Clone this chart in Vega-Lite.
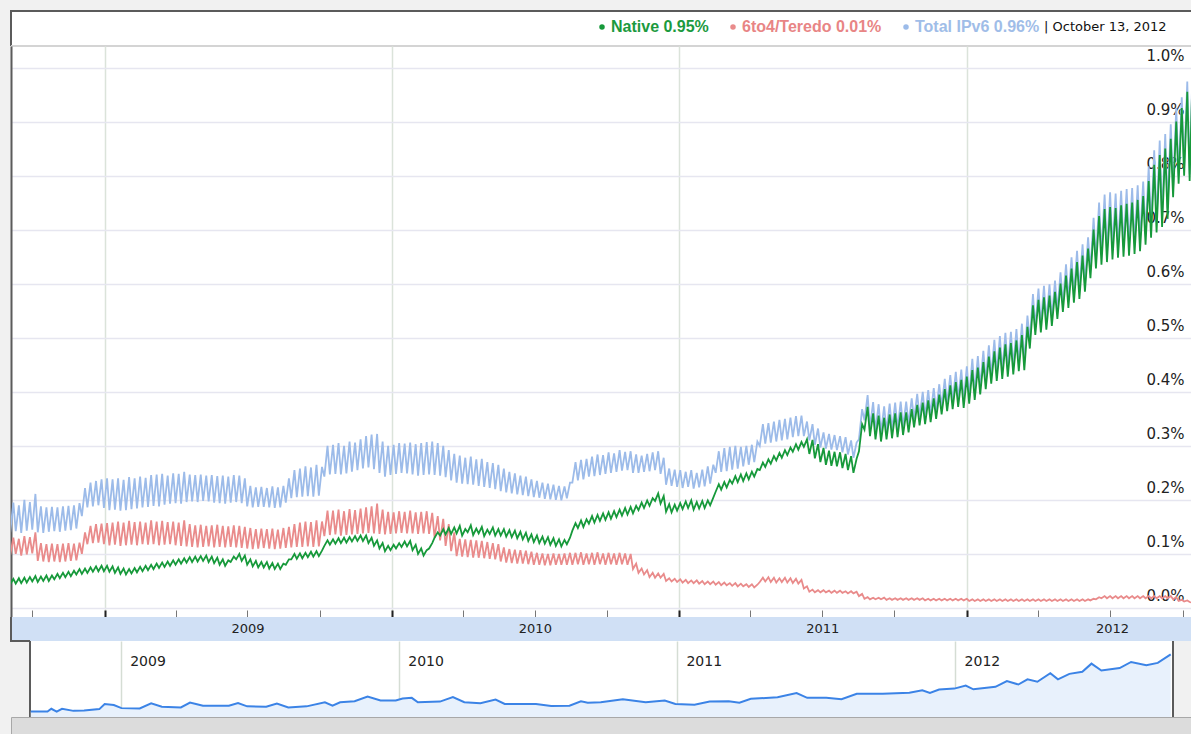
{
"$schema": "https://vega.github.io/schema/vega-lite/v6.json",
"background": "#f1f1f1",
"padding": {"left": 10, "top": 10, "right": 0, "bottom": 0},
"bounds": "flush",
"spacing": 0,
"center": true,
"config": {"font": "DejaVu Sans"},
"datasets": {
"years": [
{"mid": "2009-07-02", "label": "2009"},
{"mid": "2010-07-02", "label": "2010"},
{"mid": "2011-07-02", "label": "2011"},
{"mid": "2012-07-04", "label": "2012"}
],
"overview": [
{"d":"2008-09-05","v":0.084},{"d":"2008-09-27","v":0.084},{"d":"2008-10-02","v":0.126},{"d":"2008-10-09","v":0.084},{"d":"2008-10-16","v":0.126},{"d":"2008-10-31","v":0.094},{"d":"2008-11-14","v":0.100},{"d":"2008-12-04","v":0.121},{"d":"2008-12-11","v":0.199},{"d":"2008-12-23","v":0.184},
{"d":"2009-01-02","v":0.136},{"d":"2009-01-26","v":0.131},{"d":"2009-02-10","v":0.210},{"d":"2009-02-24","v":0.157},{"d":"2009-03-21","v":0.147},{"d":"2009-04-02","v":0.220},{"d":"2009-04-19","v":0.173},{"d":"2009-05-23","v":0.173},{"d":"2009-06-04","v":0.215},{"d":"2009-06-16","v":0.163},{"d":"2009-07-11","v":0.157},{"d":"2009-07-25","v":0.205},{"d":"2009-08-09","v":0.147},{"d":"2009-09-02","v":0.163},{"d":"2009-09-26","v":0.226},{"d":"2009-10-06","v":0.173},{"d":"2009-10-16","v":0.226},{"d":"2009-11-04","v":0.241},{"d":"2009-11-21","v":0.315},{"d":"2009-12-08","v":0.252},{"d":"2009-12-28","v":0.252},
{"d":"2010-01-06","v":0.283},{"d":"2010-01-18","v":0.294},{"d":"2010-01-26","v":0.226},{"d":"2010-02-24","v":0.236},{"d":"2010-03-13","v":0.304},{"d":"2010-03-28","v":0.226},{"d":"2010-04-18","v":0.210},{"d":"2010-05-08","v":0.267},{"d":"2010-05-20","v":0.199},{"d":"2010-06-30","v":0.199},{"d":"2010-07-20","v":0.168},{"d":"2010-08-13","v":0.173},{"d":"2010-08-28","v":0.241},{"d":"2010-09-06","v":0.220},{"d":"2010-09-23","v":0.226},{"d":"2010-10-22","v":0.273},{"d":"2010-11-21","v":0.226},{"d":"2010-12-16","v":0.252},{"d":"2010-12-30","v":0.199},
{"d":"2011-01-24","v":0.189},{"d":"2011-02-13","v":0.236},{"d":"2011-03-10","v":0.241},{"d":"2011-03-24","v":0.220},{"d":"2011-04-08","v":0.278},{"d":"2011-05-13","v":0.304},{"d":"2011-06-07","v":0.367},{"d":"2011-06-21","v":0.294},{"d":"2011-07-16","v":0.294},{"d":"2011-08-05","v":0.273},{"d":"2011-08-25","v":0.357},{"d":"2011-09-28","v":0.357},{"d":"2011-11-02","v":0.372},{"d":"2011-11-19","v":0.409},{"d":"2011-11-29","v":0.367},{"d":"2011-12-11","v":0.420},{"d":"2011-12-31","v":0.435},
{"d":"2012-01-15","v":0.483},{"d":"2012-01-25","v":0.425},{"d":"2012-02-23","v":0.462},{"d":"2012-03-09","v":0.551},{"d":"2012-03-24","v":0.498},{"d":"2012-04-05","v":0.577},{"d":"2012-04-18","v":0.540},{"d":"2012-05-05","v":0.671},{"d":"2012-05-15","v":0.577},{"d":"2012-05-30","v":0.661},{"d":"2012-06-16","v":0.692},{"d":"2012-06-28","v":0.818},{"d":"2012-07-11","v":0.713},{"d":"2012-08-04","v":0.750},{"d":"2012-08-19","v":0.844},{"d":"2012-09-08","v":0.792},{"d":"2012-09-23","v":0.829},{"d":"2012-10-10","v":0.960}
],
"ipv6": [
{"d":"2008-09-03","n":0.044,"r":0.098,"t":0.140},{"d":"2008-09-07","n":0.054,"r":0.130,"t":0.195},
{"d":"2008-09-10","n":0.045,"r":0.100,"t":0.142},{"d":"2008-09-14","n":0.055,"r":0.128,"t":0.190},
{"d":"2008-09-17","n":0.046,"r":0.097,"t":0.139},{"d":"2008-09-21","n":0.056,"r":0.133,"t":0.200},
{"d":"2008-09-24","n":0.047,"r":0.099,"t":0.143},{"d":"2008-09-28","n":0.057,"r":0.131,"t":0.196},
{"d":"2008-10-01","n":0.049,"r":0.101,"t":0.145},{"d":"2008-10-05","n":0.059,"r":0.140,"t":0.211},
{"d":"2008-10-08","n":0.048,"r":0.087,"t":0.140},{"d":"2008-10-12","n":0.058,"r":0.120,"t":0.188},
{"d":"2008-10-15","n":0.050,"r":0.086,"t":0.139},{"d":"2008-10-19","n":0.060,"r":0.118,"t":0.186},
{"d":"2008-10-22","n":0.050,"r":0.085,"t":0.141},{"d":"2008-10-26","n":0.060,"r":0.119,"t":0.187},
{"d":"2008-10-29","n":0.053,"r":0.086,"t":0.142},{"d":"2008-11-02","n":0.063,"r":0.118,"t":0.186},
{"d":"2008-11-05","n":0.055,"r":0.085,"t":0.141},{"d":"2008-11-09","n":0.065,"r":0.119,"t":0.188},
{"d":"2008-11-12","n":0.057,"r":0.086,"t":0.143},{"d":"2008-11-16","n":0.067,"r":0.120,"t":0.189},
{"d":"2008-11-19","n":0.059,"r":0.087,"t":0.144},{"d":"2008-11-23","n":0.069,"r":0.119,"t":0.190},
{"d":"2008-11-26","n":0.062,"r":0.088,"t":0.147},{"d":"2008-11-30","n":0.072,"r":0.121,"t":0.194},
{"d":"2008-12-03","n":0.063,"r":0.100,"t":0.170},{"d":"2008-12-07","n":0.073,"r":0.140,"t":0.222},
{"d":"2008-12-10","n":0.065,"r":0.118,"t":0.186},{"d":"2008-12-14","n":0.075,"r":0.152,"t":0.232},
{"d":"2008-12-17","n":0.067,"r":0.120,"t":0.188},{"d":"2008-12-21","n":0.077,"r":0.155,"t":0.235},
{"d":"2008-12-24","n":0.068,"r":0.121,"t":0.190},{"d":"2008-12-28","n":0.078,"r":0.156,"t":0.238},
{"d":"2008-12-31","n":0.068,"r":0.118,"t":0.185},{"d":"2009-01-04","n":0.078,"r":0.157,"t":0.240},
{"d":"2009-01-07","n":0.067,"r":0.116,"t":0.181},{"d":"2009-01-11","n":0.077,"r":0.158,"t":0.238},
{"d":"2009-01-14","n":0.065,"r":0.117,"t":0.182},{"d":"2009-01-18","n":0.075,"r":0.160,"t":0.240},
{"d":"2009-01-21","n":0.063,"r":0.115,"t":0.180},{"d":"2009-01-25","n":0.073,"r":0.158,"t":0.237},
{"d":"2009-01-28","n":0.062,"r":0.116,"t":0.181},{"d":"2009-02-01","n":0.072,"r":0.161,"t":0.242},
{"d":"2009-02-04","n":0.064,"r":0.117,"t":0.183},{"d":"2009-02-08","n":0.074,"r":0.159,"t":0.240},
{"d":"2009-02-11","n":0.066,"r":0.116,"t":0.184},{"d":"2009-02-15","n":0.076,"r":0.160,"t":0.243},
{"d":"2009-02-18","n":0.068,"r":0.118,"t":0.186},{"d":"2009-02-22","n":0.078,"r":0.158,"t":0.241},
{"d":"2009-02-25","n":0.070,"r":0.117,"t":0.187},{"d":"2009-03-01","n":0.080,"r":0.162,"t":0.246},
{"d":"2009-03-04","n":0.072,"r":0.118,"t":0.189},{"d":"2009-03-08","n":0.082,"r":0.160,"t":0.247},
{"d":"2009-03-11","n":0.074,"r":0.116,"t":0.188},{"d":"2009-03-15","n":0.084,"r":0.161,"t":0.248},
{"d":"2009-03-18","n":0.076,"r":0.117,"t":0.191},{"d":"2009-03-22","n":0.086,"r":0.159,"t":0.245},
{"d":"2009-03-25","n":0.078,"r":0.118,"t":0.193},{"d":"2009-03-29","n":0.088,"r":0.160,"t":0.249},
{"d":"2009-04-01","n":0.080,"r":0.116,"t":0.194},{"d":"2009-04-05","n":0.090,"r":0.158,"t":0.248},
{"d":"2009-04-08","n":0.082,"r":0.115,"t":0.193},{"d":"2009-04-12","n":0.092,"r":0.162,"t":0.252},
{"d":"2009-04-15","n":0.084,"r":0.114,"t":0.196},{"d":"2009-04-19","n":0.094,"r":0.155,"t":0.247},
{"d":"2009-04-22","n":0.085,"r":0.113,"t":0.197},{"d":"2009-04-26","n":0.095,"r":0.153,"t":0.246},
{"d":"2009-04-29","n":0.086,"r":0.112,"t":0.196},{"d":"2009-05-03","n":0.096,"r":0.154,"t":0.247},
{"d":"2009-05-06","n":0.087,"r":0.113,"t":0.198},{"d":"2009-05-10","n":0.097,"r":0.152,"t":0.245},
{"d":"2009-05-13","n":0.085,"r":0.114,"t":0.197},{"d":"2009-05-17","n":0.095,"r":0.153,"t":0.246},
{"d":"2009-05-20","n":0.083,"r":0.112,"t":0.195},{"d":"2009-05-24","n":0.093,"r":0.154,"t":0.244},
{"d":"2009-05-27","n":0.080,"r":0.113,"t":0.194},{"d":"2009-05-31","n":0.090,"r":0.152,"t":0.245},
{"d":"2009-06-03","n":0.078,"r":0.112,"t":0.193},{"d":"2009-06-07","n":0.088,"r":0.151,"t":0.243},
{"d":"2009-06-10","n":0.085,"r":0.113,"t":0.195},{"d":"2009-06-14","n":0.095,"r":0.153,"t":0.246},
{"d":"2009-06-17","n":0.090,"r":0.112,"t":0.196},{"d":"2009-06-21","n":0.100,"r":0.152,"t":0.245},
{"d":"2009-06-24","n":0.087,"r":0.111,"t":0.194},{"d":"2009-06-28","n":0.097,"r":0.150,"t":0.240},
{"d":"2009-07-01","n":0.080,"r":0.110,"t":0.188},{"d":"2009-07-05","n":0.090,"r":0.148,"t":0.226},
{"d":"2009-07-08","n":0.077,"r":0.109,"t":0.186},{"d":"2009-07-12","n":0.087,"r":0.146,"t":0.223},
{"d":"2009-07-15","n":0.075,"r":0.110,"t":0.187},{"d":"2009-07-19","n":0.085,"r":0.147,"t":0.224},
{"d":"2009-07-22","n":0.075,"r":0.111,"t":0.187},{"d":"2009-07-26","n":0.085,"r":0.146,"t":0.222},
{"d":"2009-07-29","n":0.073,"r":0.110,"t":0.186},{"d":"2009-08-02","n":0.083,"r":0.147,"t":0.225},
{"d":"2009-08-05","n":0.072,"r":0.109,"t":0.185},{"d":"2009-08-09","n":0.082,"r":0.145,"t":0.223},
{"d":"2009-08-12","n":0.072,"r":0.110,"t":0.186},{"d":"2009-08-16","n":0.082,"r":0.148,"t":0.226},
{"d":"2009-08-19","n":0.080,"r":0.111,"t":0.195},{"d":"2009-08-23","n":0.090,"r":0.150,"t":0.240},
{"d":"2009-08-26","n":0.090,"r":0.112,"t":0.203},{"d":"2009-08-30","n":0.100,"r":0.155,"t":0.255},
{"d":"2009-09-02","n":0.091,"r":0.113,"t":0.205},{"d":"2009-09-06","n":0.101,"r":0.158,"t":0.258},
{"d":"2009-09-09","n":0.092,"r":0.113,"t":0.206},{"d":"2009-09-13","n":0.102,"r":0.160,"t":0.262},
{"d":"2009-09-16","n":0.094,"r":0.114,"t":0.207},{"d":"2009-09-20","n":0.104,"r":0.159,"t":0.260},
{"d":"2009-09-23","n":0.095,"r":0.113,"t":0.206},{"d":"2009-09-27","n":0.105,"r":0.162,"t":0.265},
{"d":"2009-09-30","n":0.096,"r":0.114,"t":0.208},{"d":"2009-10-04","n":0.106,"r":0.160,"t":0.261},
{"d":"2009-10-07","n":0.115,"r":0.133,"t":0.243},{"d":"2009-10-11","n":0.125,"r":0.180,"t":0.300},
{"d":"2009-10-14","n":0.117,"r":0.135,"t":0.247},{"d":"2009-10-18","n":0.127,"r":0.180,"t":0.302},
{"d":"2009-10-21","n":0.119,"r":0.136,"t":0.248},{"d":"2009-10-25","n":0.129,"r":0.182,"t":0.305},
{"d":"2009-10-28","n":0.120,"r":0.134,"t":0.247},{"d":"2009-11-01","n":0.130,"r":0.179,"t":0.300},
{"d":"2009-11-04","n":0.121,"r":0.135,"t":0.249},{"d":"2009-11-08","n":0.131,"r":0.183,"t":0.308},
{"d":"2009-11-11","n":0.123,"r":0.136,"t":0.252},{"d":"2009-11-15","n":0.133,"r":0.181,"t":0.306},
{"d":"2009-11-18","n":0.124,"r":0.137,"t":0.255},{"d":"2009-11-22","n":0.134,"r":0.184,"t":0.312},
{"d":"2009-11-25","n":0.124,"r":0.138,"t":0.258},{"d":"2009-11-29","n":0.134,"r":0.186,"t":0.318},
{"d":"2009-12-02","n":0.120,"r":0.139,"t":0.260},{"d":"2009-12-06","n":0.130,"r":0.188,"t":0.321},
{"d":"2009-12-09","n":0.115,"r":0.138,"t":0.257},{"d":"2009-12-13","n":0.125,"r":0.193,"t":0.322},
{"d":"2009-12-16","n":0.110,"r":0.137,"t":0.250},{"d":"2009-12-20","n":0.120,"r":0.182,"t":0.308},
{"d":"2009-12-23","n":0.105,"r":0.136,"t":0.243},{"d":"2009-12-27","n":0.115,"r":0.178,"t":0.300},
{"d":"2009-12-30","n":0.107,"r":0.137,"t":0.246},{"d":"2010-01-03","n":0.117,"r":0.177,"t":0.302},
{"d":"2010-01-06","n":0.110,"r":0.138,"t":0.248},{"d":"2010-01-10","n":0.120,"r":0.179,"t":0.305},
{"d":"2010-01-13","n":0.113,"r":0.139,"t":0.250},{"d":"2010-01-17","n":0.123,"r":0.178,"t":0.304},
{"d":"2010-01-20","n":0.114,"r":0.138,"t":0.249},{"d":"2010-01-24","n":0.124,"r":0.180,"t":0.306},
{"d":"2010-01-27","n":0.107,"r":0.138,"t":0.247},{"d":"2010-01-31","n":0.117,"r":0.177,"t":0.303},
{"d":"2010-02-03","n":0.100,"r":0.137,"t":0.245},{"d":"2010-02-07","n":0.110,"r":0.178,"t":0.305},
{"d":"2010-02-10","n":0.097,"r":0.138,"t":0.246},{"d":"2010-02-14","n":0.107,"r":0.179,"t":0.307},
{"d":"2010-02-17","n":0.110,"r":0.137,"t":0.247},{"d":"2010-02-21","n":0.120,"r":0.176,"t":0.308},
{"d":"2010-02-24","n":0.130,"r":0.130,"t":0.246},{"d":"2010-02-28","n":0.140,"r":0.170,"t":0.305},
{"d":"2010-03-03","n":0.134,"r":0.125,"t":0.245},{"d":"2010-03-07","n":0.146,"r":0.165,"t":0.300},
{"d":"2010-03-10","n":0.136,"r":0.115,"t":0.242},{"d":"2010-03-14","n":0.148,"r":0.155,"t":0.292},
{"d":"2010-03-17","n":0.137,"r":0.105,"t":0.236},{"d":"2010-03-21","n":0.149,"r":0.140,"t":0.285},
{"d":"2010-03-24","n":0.138,"r":0.096,"t":0.232},{"d":"2010-03-28","n":0.152,"r":0.128,"t":0.282},
{"d":"2010-03-31","n":0.134,"r":0.095,"t":0.230},{"d":"2010-04-04","n":0.146,"r":0.127,"t":0.278},
{"d":"2010-04-07","n":0.140,"r":0.094,"t":0.229},{"d":"2010-04-11","n":0.153,"r":0.126,"t":0.280},
{"d":"2010-04-14","n":0.135,"r":0.093,"t":0.228},{"d":"2010-04-18","n":0.147,"r":0.125,"t":0.275},
{"d":"2010-04-21","n":0.138,"r":0.093,"t":0.226},{"d":"2010-04-25","n":0.150,"r":0.124,"t":0.276},
{"d":"2010-04-28","n":0.133,"r":0.092,"t":0.224},{"d":"2010-05-02","n":0.145,"r":0.122,"t":0.270},
{"d":"2010-05-05","n":0.137,"r":0.091,"t":0.222},{"d":"2010-05-09","n":0.149,"r":0.120,"t":0.268},
{"d":"2010-05-12","n":0.134,"r":0.090,"t":0.220},{"d":"2010-05-16","n":0.146,"r":0.118,"t":0.265},
{"d":"2010-05-19","n":0.134,"r":0.086,"t":0.216},{"d":"2010-05-23","n":0.146,"r":0.112,"t":0.258},
{"d":"2010-05-26","n":0.132,"r":0.084,"t":0.214},{"d":"2010-05-30","n":0.144,"r":0.109,"t":0.252},
{"d":"2010-06-02","n":0.131,"r":0.083,"t":0.212},{"d":"2010-06-06","n":0.143,"r":0.108,"t":0.249},
{"d":"2010-06-09","n":0.129,"r":0.082,"t":0.210},{"d":"2010-06-13","n":0.141,"r":0.107,"t":0.245},
{"d":"2010-06-16","n":0.127,"r":0.082,"t":0.209},{"d":"2010-06-20","n":0.139,"r":0.106,"t":0.243},
{"d":"2010-06-23","n":0.124,"r":0.081,"t":0.207},{"d":"2010-06-27","n":0.136,"r":0.104,"t":0.238},
{"d":"2010-06-30","n":0.122,"r":0.080,"t":0.205},{"d":"2010-07-04","n":0.134,"r":0.102,"t":0.235},
{"d":"2010-07-07","n":0.120,"r":0.080,"t":0.204},{"d":"2010-07-11","n":0.132,"r":0.101,"t":0.232},
{"d":"2010-07-14","n":0.119,"r":0.079,"t":0.202},{"d":"2010-07-18","n":0.131,"r":0.100,"t":0.230},
{"d":"2010-07-21","n":0.117,"r":0.079,"t":0.201},{"d":"2010-07-25","n":0.129,"r":0.101,"t":0.228},
{"d":"2010-07-28","n":0.115,"r":0.080,"t":0.200},{"d":"2010-08-01","n":0.127,"r":0.100,"t":0.226},
{"d":"2010-08-04","n":0.114,"r":0.080,"t":0.199},{"d":"2010-08-08","n":0.126,"r":0.101,"t":0.225},
{"d":"2010-08-11","n":0.118,"r":0.080,"t":0.203},{"d":"2010-08-15","n":0.130,"r":0.102,"t":0.232},
{"d":"2010-08-18","n":0.143,"r":0.080,"t":0.232},{"d":"2010-08-22","n":0.157,"r":0.102,"t":0.270},
{"d":"2010-08-25","n":0.148,"r":0.081,"t":0.236},{"d":"2010-08-29","n":0.162,"r":0.103,"t":0.274},
{"d":"2010-09-01","n":0.150,"r":0.080,"t":0.238},{"d":"2010-09-05","n":0.164,"r":0.101,"t":0.276},
{"d":"2010-09-08","n":0.156,"r":0.081,"t":0.243},{"d":"2010-09-12","n":0.170,"r":0.102,"t":0.280},
{"d":"2010-09-15","n":0.158,"r":0.080,"t":0.244},{"d":"2010-09-19","n":0.172,"r":0.103,"t":0.284},
{"d":"2010-09-22","n":0.161,"r":0.081,"t":0.246},{"d":"2010-09-26","n":0.175,"r":0.101,"t":0.283},
{"d":"2010-09-29","n":0.163,"r":0.080,"t":0.248},{"d":"2010-10-03","n":0.177,"r":0.102,"t":0.288},
{"d":"2010-10-06","n":0.165,"r":0.081,"t":0.250},{"d":"2010-10-10","n":0.179,"r":0.101,"t":0.286},
{"d":"2010-10-13","n":0.168,"r":0.080,"t":0.252},{"d":"2010-10-17","n":0.182,"r":0.102,"t":0.292},
{"d":"2010-10-20","n":0.171,"r":0.081,"t":0.254},{"d":"2010-10-24","n":0.185,"r":0.101,"t":0.289},
{"d":"2010-10-27","n":0.173,"r":0.080,"t":0.255},{"d":"2010-10-31","n":0.187,"r":0.100,"t":0.290},
{"d":"2010-11-03","n":0.175,"r":0.072,"t":0.250},{"d":"2010-11-07","n":0.189,"r":0.082,"t":0.284},
{"d":"2010-11-10","n":0.181,"r":0.065,"t":0.250},{"d":"2010-11-14","n":0.195,"r":0.073,"t":0.282},
{"d":"2010-11-17","n":0.185,"r":0.062,"t":0.252},{"d":"2010-11-21","n":0.199,"r":0.070,"t":0.285},
{"d":"2010-11-24","n":0.189,"r":0.057,"t":0.253},{"d":"2010-11-28","n":0.203,"r":0.065,"t":0.288},
{"d":"2010-12-01","n":0.198,"r":0.056,"t":0.255},{"d":"2010-12-05","n":0.212,"r":0.064,"t":0.290},
{"d":"2010-12-08","n":0.193,"r":0.056,"t":0.248},{"d":"2010-12-12","n":0.207,"r":0.063,"t":0.278},
{"d":"2010-12-15","n":0.178,"r":0.050,"t":0.228},{"d":"2010-12-19","n":0.192,"r":0.055,"t":0.258},
{"d":"2010-12-22","n":0.177,"r":0.049,"t":0.226},{"d":"2010-12-26","n":0.191,"r":0.054,"t":0.256},
{"d":"2010-12-29","n":0.180,"r":0.048,"t":0.224},{"d":"2011-01-02","n":0.194,"r":0.053,"t":0.255},
{"d":"2011-01-05","n":0.183,"r":0.047,"t":0.222},{"d":"2011-01-09","n":0.197,"r":0.052,"t":0.252},
{"d":"2011-01-12","n":0.185,"r":0.046,"t":0.224},{"d":"2011-01-16","n":0.199,"r":0.051,"t":0.255},
{"d":"2011-01-19","n":0.182,"r":0.046,"t":0.221},{"d":"2011-01-23","n":0.196,"r":0.051,"t":0.250},
{"d":"2011-01-26","n":0.184,"r":0.045,"t":0.223},{"d":"2011-01-30","n":0.198,"r":0.050,"t":0.256},
{"d":"2011-02-02","n":0.185,"r":0.044,"t":0.225},{"d":"2011-02-06","n":0.199,"r":0.049,"t":0.262},
{"d":"2011-02-09","n":0.190,"r":0.044,"t":0.230},{"d":"2011-02-13","n":0.204,"r":0.049,"t":0.265},
{"d":"2011-02-16","n":0.215,"r":0.043,"t":0.250},{"d":"2011-02-20","n":0.229,"r":0.048,"t":0.290},
{"d":"2011-02-23","n":0.219,"r":0.042,"t":0.252},{"d":"2011-02-27","n":0.233,"r":0.047,"t":0.296},
{"d":"2011-03-02","n":0.223,"r":0.042,"t":0.253},{"d":"2011-03-06","n":0.237,"r":0.046,"t":0.298},
{"d":"2011-03-09","n":0.230,"r":0.041,"t":0.256},{"d":"2011-03-13","n":0.244,"r":0.046,"t":0.300},
{"d":"2011-03-16","n":0.233,"r":0.040,"t":0.258},{"d":"2011-03-20","n":0.247,"r":0.045,"t":0.298},
{"d":"2011-03-23","n":0.235,"r":0.040,"t":0.262},{"d":"2011-03-27","n":0.249,"r":0.044,"t":0.300},
{"d":"2011-03-30","n":0.238,"r":0.039,"t":0.265},{"d":"2011-04-03","n":0.252,"r":0.044,"t":0.302},
{"d":"2011-04-06","n":0.243,"r":0.038,"t":0.270},{"d":"2011-04-10","n":0.257,"r":0.043,"t":0.308},
{"d":"2011-04-13","n":0.255,"r":0.048,"t":0.300},{"d":"2011-04-17","n":0.269,"r":0.056,"t":0.340},
{"d":"2011-04-20","n":0.261,"r":0.049,"t":0.304},{"d":"2011-04-24","n":0.275,"r":0.057,"t":0.342},
{"d":"2011-04-27","n":0.267,"r":0.048,"t":0.306},{"d":"2011-05-01","n":0.281,"r":0.056,"t":0.345},
{"d":"2011-05-04","n":0.273,"r":0.047,"t":0.308},{"d":"2011-05-08","n":0.287,"r":0.055,"t":0.348},
{"d":"2011-05-11","n":0.278,"r":0.048,"t":0.310},{"d":"2011-05-15","n":0.292,"r":0.056,"t":0.350},
{"d":"2011-05-18","n":0.283,"r":0.047,"t":0.312},{"d":"2011-05-22","n":0.297,"r":0.055,"t":0.352},
{"d":"2011-05-25","n":0.289,"r":0.046,"t":0.316},{"d":"2011-05-29","n":0.303,"r":0.054,"t":0.355},
{"d":"2011-06-01","n":0.293,"r":0.045,"t":0.318},{"d":"2011-06-05","n":0.307,"r":0.052,"t":0.356},
{"d":"2011-06-08","n":0.298,"r":0.036,"t":0.318},{"d":"2011-06-12","n":0.312,"r":0.040,"t":0.345},
{"d":"2011-06-15","n":0.285,"r":0.030,"t":0.310},{"d":"2011-06-19","n":0.311,"r":0.034,"t":0.340},
{"d":"2011-06-22","n":0.277,"r":0.029,"t":0.302},{"d":"2011-06-26","n":0.303,"r":0.033,"t":0.332},
{"d":"2011-06-29","n":0.270,"r":0.029,"t":0.297},{"d":"2011-07-03","n":0.296,"r":0.033,"t":0.325},
{"d":"2011-07-06","n":0.265,"r":0.029,"t":0.295},{"d":"2011-07-10","n":0.291,"r":0.032,"t":0.322},
{"d":"2011-07-13","n":0.263,"r":0.028,"t":0.293},{"d":"2011-07-17","n":0.289,"r":0.032,"t":0.320},
{"d":"2011-07-20","n":0.262,"r":0.028,"t":0.292},{"d":"2011-07-24","n":0.288,"r":0.032,"t":0.318},
{"d":"2011-07-27","n":0.259,"r":0.028,"t":0.288},{"d":"2011-07-31","n":0.285,"r":0.031,"t":0.316},
{"d":"2011-08-03","n":0.255,"r":0.027,"t":0.284},{"d":"2011-08-07","n":0.281,"r":0.031,"t":0.310},
{"d":"2011-08-10","n":0.250,"r":0.027,"t":0.278},{"d":"2011-08-14","n":0.276,"r":0.030,"t":0.306},
{"d":"2011-08-17","n":0.290,"r":0.022,"t":0.312},{"d":"2011-08-21","n":0.340,"r":0.026,"t":0.368},
{"d":"2011-08-24","n":0.330,"r":0.017,"t":0.347},{"d":"2011-08-28","n":0.372,"r":0.020,"t":0.394},
{"d":"2011-08-31","n":0.318,"r":0.016,"t":0.334},{"d":"2011-09-04","n":0.360,"r":0.019,"t":0.381},
{"d":"2011-09-07","n":0.312,"r":0.016,"t":0.328},{"d":"2011-09-11","n":0.356,"r":0.019,"t":0.377},
{"d":"2011-09-14","n":0.308,"r":0.016,"t":0.324},{"d":"2011-09-18","n":0.352,"r":0.019,"t":0.373},
{"d":"2011-09-21","n":0.312,"r":0.015,"t":0.327},{"d":"2011-09-25","n":0.358,"r":0.018,"t":0.378},
{"d":"2011-09-28","n":0.314,"r":0.015,"t":0.329},{"d":"2011-10-02","n":0.360,"r":0.018,"t":0.380},
{"d":"2011-10-05","n":0.316,"r":0.015,"t":0.331},{"d":"2011-10-09","n":0.362,"r":0.018,"t":0.382},
{"d":"2011-10-12","n":0.320,"r":0.015,"t":0.335},{"d":"2011-10-16","n":0.362,"r":0.018,"t":0.382},
{"d":"2011-10-19","n":0.325,"r":0.015,"t":0.340},{"d":"2011-10-23","n":0.368,"r":0.018,"t":0.388},
{"d":"2011-10-26","n":0.334,"r":0.015,"t":0.349},{"d":"2011-10-30","n":0.376,"r":0.018,"t":0.396},
{"d":"2011-11-02","n":0.338,"r":0.015,"t":0.353},{"d":"2011-11-06","n":0.380,"r":0.018,"t":0.400},
{"d":"2011-11-09","n":0.340,"r":0.014,"t":0.354},{"d":"2011-11-13","n":0.384,"r":0.017,"t":0.403},
{"d":"2011-11-16","n":0.344,"r":0.014,"t":0.358},{"d":"2011-11-20","n":0.388,"r":0.017,"t":0.407},
{"d":"2011-11-23","n":0.350,"r":0.014,"t":0.364},{"d":"2011-11-27","n":0.395,"r":0.017,"t":0.414},
{"d":"2011-11-30","n":0.358,"r":0.014,"t":0.372},{"d":"2011-12-04","n":0.405,"r":0.017,"t":0.424},
{"d":"2011-12-07","n":0.364,"r":0.014,"t":0.378},{"d":"2011-12-11","n":0.412,"r":0.017,"t":0.431},
{"d":"2011-12-14","n":0.368,"r":0.014,"t":0.382},{"d":"2011-12-18","n":0.418,"r":0.017,"t":0.437},
{"d":"2011-12-21","n":0.372,"r":0.014,"t":0.386},{"d":"2011-12-25","n":0.422,"r":0.017,"t":0.441},
{"d":"2011-12-28","n":0.370,"r":0.014,"t":0.384},{"d":"2012-01-01","n":0.428,"r":0.017,"t":0.447},
{"d":"2012-01-04","n":0.378,"r":0.013,"t":0.392},{"d":"2012-01-08","n":0.440,"r":0.016,"t":0.461},
{"d":"2012-01-11","n":0.385,"r":0.013,"t":0.399},{"d":"2012-01-15","n":0.445,"r":0.016,"t":0.466},
{"d":"2012-01-18","n":0.395,"r":0.013,"t":0.409},{"d":"2012-01-22","n":0.455,"r":0.016,"t":0.476},
{"d":"2012-01-25","n":0.405,"r":0.013,"t":0.419},{"d":"2012-01-29","n":0.465,"r":0.016,"t":0.486},
{"d":"2012-02-01","n":0.415,"r":0.013,"t":0.429},{"d":"2012-02-05","n":0.475,"r":0.016,"t":0.496},
{"d":"2012-02-08","n":0.420,"r":0.013,"t":0.434},{"d":"2012-02-12","n":0.482,"r":0.016,"t":0.503},
{"d":"2012-02-15","n":0.424,"r":0.013,"t":0.438},{"d":"2012-02-19","n":0.488,"r":0.016,"t":0.509},
{"d":"2012-02-22","n":0.428,"r":0.013,"t":0.442},{"d":"2012-02-26","n":0.490,"r":0.016,"t":0.511},
{"d":"2012-02-29","n":0.432,"r":0.013,"t":0.446},{"d":"2012-03-04","n":0.495,"r":0.016,"t":0.516},
{"d":"2012-03-07","n":0.438,"r":0.013,"t":0.452},{"d":"2012-03-11","n":0.505,"r":0.016,"t":0.526},
{"d":"2012-03-14","n":0.440,"r":0.013,"t":0.454},{"d":"2012-03-18","n":0.520,"r":0.016,"t":0.541},
{"d":"2012-03-21","n":0.480,"r":0.013,"t":0.494},{"d":"2012-03-25","n":0.560,"r":0.016,"t":0.581},
{"d":"2012-03-28","n":0.505,"r":0.013,"t":0.519},{"d":"2012-04-01","n":0.570,"r":0.016,"t":0.591},
{"d":"2012-04-04","n":0.510,"r":0.013,"t":0.524},{"d":"2012-04-08","n":0.575,"r":0.016,"t":0.596},
{"d":"2012-04-11","n":0.515,"r":0.013,"t":0.529},{"d":"2012-04-15","n":0.578,"r":0.016,"t":0.599},
{"d":"2012-04-18","n":0.522,"r":0.013,"t":0.536},{"d":"2012-04-22","n":0.585,"r":0.016,"t":0.606},
{"d":"2012-04-25","n":0.535,"r":0.013,"t":0.549},{"d":"2012-04-29","n":0.600,"r":0.016,"t":0.621},
{"d":"2012-05-02","n":0.548,"r":0.013,"t":0.562},{"d":"2012-05-06","n":0.615,"r":0.016,"t":0.636},
{"d":"2012-05-09","n":0.555,"r":0.013,"t":0.569},{"d":"2012-05-13","n":0.628,"r":0.016,"t":0.649},
{"d":"2012-05-16","n":0.565,"r":0.013,"t":0.579},{"d":"2012-05-20","n":0.640,"r":0.016,"t":0.661},
{"d":"2012-05-23","n":0.572,"r":0.013,"t":0.586},{"d":"2012-05-27","n":0.652,"r":0.016,"t":0.673},
{"d":"2012-05-30","n":0.585,"r":0.013,"t":0.599},{"d":"2012-06-03","n":0.665,"r":0.016,"t":0.686},
{"d":"2012-06-06","n":0.610,"r":0.014,"t":0.625},{"d":"2012-06-10","n":0.700,"r":0.017,"t":0.722},
{"d":"2012-06-13","n":0.628,"r":0.016,"t":0.645},{"d":"2012-06-17","n":0.725,"r":0.020,"t":0.750},
{"d":"2012-06-20","n":0.635,"r":0.018,"t":0.654},{"d":"2012-06-24","n":0.738,"r":0.022,"t":0.765},
{"d":"2012-06-27","n":0.640,"r":0.018,"t":0.659},{"d":"2012-07-01","n":0.742,"r":0.022,"t":0.769},
{"d":"2012-07-04","n":0.645,"r":0.018,"t":0.664},{"d":"2012-07-08","n":0.740,"r":0.022,"t":0.767},
{"d":"2012-07-11","n":0.648,"r":0.018,"t":0.667},{"d":"2012-07-15","n":0.745,"r":0.022,"t":0.772},
{"d":"2012-07-18","n":0.650,"r":0.018,"t":0.669},{"d":"2012-07-22","n":0.748,"r":0.022,"t":0.775},
{"d":"2012-07-25","n":0.652,"r":0.018,"t":0.671},{"d":"2012-07-29","n":0.750,"r":0.022,"t":0.777},
{"d":"2012-08-01","n":0.655,"r":0.018,"t":0.674},{"d":"2012-08-05","n":0.755,"r":0.022,"t":0.782},
{"d":"2012-08-08","n":0.660,"r":0.018,"t":0.679},{"d":"2012-08-12","n":0.762,"r":0.022,"t":0.789},
{"d":"2012-08-15","n":0.672,"r":0.018,"t":0.691},{"d":"2012-08-19","n":0.790,"r":0.022,"t":0.817},
{"d":"2012-08-22","n":0.685,"r":0.018,"t":0.704},{"d":"2012-08-26","n":0.820,"r":0.022,"t":0.847},
{"d":"2012-08-29","n":0.695,"r":0.018,"t":0.714},{"d":"2012-09-02","n":0.838,"r":0.022,"t":0.865},
{"d":"2012-09-05","n":0.705,"r":0.018,"t":0.724},{"d":"2012-09-09","n":0.850,"r":0.022,"t":0.877},
{"d":"2012-09-12","n":0.720,"r":0.018,"t":0.739},{"d":"2012-09-16","n":0.868,"r":0.022,"t":0.895},
{"d":"2012-09-19","n":0.760,"r":0.016,"t":0.777},{"d":"2012-09-23","n":0.900,"r":0.020,"t":0.925},
{"d":"2012-09-26","n":0.785,"r":0.013,"t":0.799},{"d":"2012-09-30","n":0.925,"r":0.015,"t":0.945},
{"d":"2012-10-03","n":0.800,"r":0.012,"t":0.813},{"d":"2012-10-07","n":0.955,"r":0.014,"t":0.974},
{"d":"2012-10-10","n":0.790,"r":0.011,"t":0.802},{"d":"2012-10-13","n":0.950,"r":0.010,"t":0.960}
]
},
"vconcat": [
{
"width": 1181, "height": 35,
"view": {"fill": "white", "stroke": "#5b5b5b", "strokeWidth": 2, "strokeDash": [1181, 1216, 35]},
"data": {"values": []},
"mark": {"type": "text"},
"encoding": {}
},
{
"width": 1181, "height": 571,
"view": {"fill": "white", "stroke": "#d4d4d4", "strokeWidth": 2, "strokeDash": [1181, 5000]},
"data": {"name": "ipv6"},
"transform": [{"fold": ["t", "r", "n"], "as": ["series", "value"]}],
"mark": {"type": "line", "strokeWidth": 1.8, "clip": true},
"encoding": {
"x": {"field": "d", "type": "temporal",
 "scale": {"type": "utc", "domain": [{"year": 2008, "month": 9, "date": 4, "utc": true}, {"year": 2012, "month": 10, "date": 13, "utc": true}]},
 "axis": {
  "title": null, "labels": false, "domain": false,
  "values": [
   {"year": 2008, "month": 10, "date": 1, "utc": true},
   {"year": 2009, "month": 1, "date": 1, "utc": true}, {"year": 2009, "month": 4, "date": 1, "utc": true}, {"year": 2009, "month": 7, "date": 1, "utc": true}, {"year": 2009, "month": 10, "date": 1, "utc": true},
   {"year": 2010, "month": 1, "date": 1, "utc": true}, {"year": 2010, "month": 4, "date": 1, "utc": true}, {"year": 2010, "month": 7, "date": 1, "utc": true}, {"year": 2010, "month": 10, "date": 1, "utc": true},
   {"year": 2011, "month": 1, "date": 1, "utc": true}, {"year": 2011, "month": 4, "date": 1, "utc": true}, {"year": 2011, "month": 7, "date": 1, "utc": true}, {"year": 2011, "month": 10, "date": 1, "utc": true},
   {"year": 2012, "month": 1, "date": 1, "utc": true}, {"year": 2012, "month": 4, "date": 1, "utc": true}, {"year": 2012, "month": 7, "date": 1, "utc": true}, {"year": 2012, "month": 10, "date": 1, "utc": true}
  ],
  "ticks": true, "tickSize": -7,
  "tickColor": {"condition": {"test": "utcmonth(datum.value) === 0", "value": "#222222"}, "value": "#777777"},
  "tickWidth": {"condition": {"test": "utcmonth(datum.value) === 0", "value": 2}, "value": 1},
  "grid": true, "gridColor": "#dbe3da", "gridWidth": 1.5,
  "gridOpacity": {"condition": {"test": "utcmonth(datum.value) === 0", "value": 1}, "value": 0}
 }
},
"y": {"field": "value", "type": "quantitative",
 "scale": {"domain": [-0.0167, 1.0398], "zero": false, "nice": false},
 "axis": {
  "orient": "left", "title": null,
  "values": [0, 0.1, 0.2, 0.3, 0.4, 0.5, 0.6, 0.7, 0.8, 0.9, 1.0],
  "domain": true, "domainColor": "#5b5b5b", "domainWidth": 2,
  "ticks": false, "tickSize": 0,
  "grid": true, "gridColor": "#e6e6f0", "gridWidth": 1.5,
  "labelExpr": "format(datum.value, '.1f') + '%'",
  "labelPadding": -1173, "labelAlign": "right", "labelBaseline": "middle", "labelOffset": -12,
  "labelFont": "DejaVu Sans", "labelFontSize": 15, "labelColor": "#222222",
  "labelBound": false, "labelOverlap": false
 }
},
"color": {"field": "series", "type": "nominal",
 "scale": {"domain": ["n", "r", "t"], "range": ["#16993a", "#e98b8b", "#9cbbe9"]},
 "legend": {
  "orient": "none", "legendX": 583, "legendY": 8, "direction": "horizontal", "padding": 0,
  "title": "| October 13, 2012", "titleOrient": "right", "titleAnchor": "middle", "titleBaseline": "middle",
  "titleFont": "DejaVu Sans", "titleFontSize": 13, "titleFontWeight": "normal", "titleColor": "#111111", "titlePadding": 5,
  "symbolType": "circle", "symbolSize": 30, "symbolStrokeWidth": 0,
  "labelFont": "Liberation Sans", "labelFontSize": 16, "labelFontWeight": "bold", "labelOffset": 1, "labelLimit": 300,
  "columnPadding": 16,
  "labelExpr": "datum.label == 'n' ? 'Native 0.95%' : datum.label == 'r' ? '6to4/Teredo 0.01%' : 'Total IPv6 0.96%'",
  "encode": {
   "symbols": {"update": {"fill": {"signal": "datum.value === 'n' ? '#16993a' : datum.value === 'r' ? '#e98b8b' : '#9cbbe9'"}, "strokeWidth": {"value": 0}}},
   "labels": {"update": {"fill": {"signal": "datum.value === 'n' ? '#1b9a3e' : datum.value === 'r' ? '#e88585' : '#a0bde8'"}}}
  }
 }
}
}
},
{
"width": 1181, "height": 24,
"view": {"fill": "#d0e0f5", "stroke": "#5b5b5b", "strokeWidth": 2, "strokeDash": [0, 2367, 43]},
"data": {"name": "years"},
"mark": {"type": "text", "font": "DejaVu Sans", "fontSize": 13, "color": "#222222", "baseline": "middle"},
"encoding": {
"x": {"field": "mid", "type": "temporal", "scale": {"type": "utc", "domain": [{"year": 2008, "month": 9, "date": 4, "utc": true}, {"year": 2012, "month": 10, "date": 13, "utc": true}]}, "axis": null},
"text": {"field": "label"}
}
},
{
"width": 1143, "height": 76,
"view": {"fill": "white", "stroke": "#5b5b5b", "strokeWidth": 2, "strokeDash": [0, 1143, 76, 1143, 76]},
"data": {"name": "overview"},
"encoding": {
"x": {"field": "d", "type": "temporal",
 "scale": {"type": "utc", "domain": [{"year": 2008, "month": 9, "date": 4, "utc": true}, {"year": 2012, "month": 10, "date": 13, "utc": true}]},
 "axis": {
  "title": null, "domain": false,
  "values": [
   {"year": 2008, "month": 10, "date": 1, "utc": true},
   {"year": 2009, "month": 1, "date": 1, "utc": true}, {"year": 2009, "month": 4, "date": 1, "utc": true}, {"year": 2009, "month": 7, "date": 1, "utc": true}, {"year": 2009, "month": 10, "date": 1, "utc": true},
   {"year": 2010, "month": 1, "date": 1, "utc": true}, {"year": 2010, "month": 4, "date": 1, "utc": true}, {"year": 2010, "month": 7, "date": 1, "utc": true}, {"year": 2010, "month": 10, "date": 1, "utc": true},
   {"year": 2011, "month": 1, "date": 1, "utc": true}, {"year": 2011, "month": 4, "date": 1, "utc": true}, {"year": 2011, "month": 7, "date": 1, "utc": true}, {"year": 2011, "month": 10, "date": 1, "utc": true},
   {"year": 2012, "month": 1, "date": 1, "utc": true}, {"year": 2012, "month": 4, "date": 1, "utc": true}, {"year": 2012, "month": 7, "date": 1, "utc": true}, {"year": 2012, "month": 10, "date": 1, "utc": true}
  ],
  "ticks": true, "tickSize": -7,
  "tickColor": {"condition": {"test": "utcmonth(datum.value) === 0", "value": "#222222"}, "value": "#c4ccc4"},
  "tickWidth": {"condition": {"test": "utcmonth(datum.value) === 0", "value": 2}, "value": 1},
  "grid": true, "gridColor": "#d5ddd4", "gridWidth": 1.5,
  "gridOpacity": {"condition": {"test": "utcmonth(datum.value) === 0", "value": 1}, "value": 0},
  "labelExpr": "utcmonth(datum.value) === 0 ? utcFormat(datum.value, '%Y') : ''",
  "labelAlign": "left", "labelBaseline": "middle", "labelPadding": -49, "labelOffset": 9,
  "labelFont": "DejaVu Sans", "labelFontSize": 14, "labelColor": "#222222",
  "labelBound": false, "labelOverlap": false, "labelFlush": false
 }
},
"y": {"field": "v", "type": "quantitative", "scale": {"domain": [0, 1.165], "nice": false, "zero": false}, "axis": null}
},
"layer": [
{"mark": {"type": "area", "color": "#e8f1fc"}},
{"mark": {"type": "line", "color": "#3b83e6", "strokeWidth": 2}}
]
},
{
"width": 1181, "height": 18,
"view": {"fill": "#dcdcdc", "stroke": "#a8a8a8", "strokeWidth": 1},
"data": {"values": []},
"mark": {"type": "text"},
"encoding": {}
}
]
}
